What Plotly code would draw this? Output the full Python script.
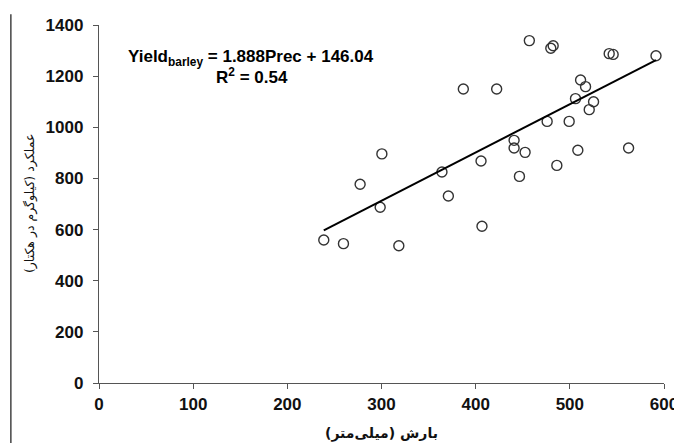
import plotly.graph_objects as go

# Data (precipitation mm, barley yield kg/ha)
prec = [457, 479.8, 482.3, 541.8, 546, 591.5, 386.9, 422.3, 511.4, 516.7,
        506, 525.2, 520.6, 475.9, 499.3, 440.8, 440.8, 452.5, 405.7, 508.5,
        562.4, 486.2, 446.5, 371, 406.7, 364.2, 300.4, 277.3, 298.6, 238.7,
        259.6, 318.4]
yield_ = [1339, 1309, 1319, 1288, 1285, 1280, 1150, 1150, 1185, 1159,
          1112, 1100, 1069, 1023, 1023, 949, 919, 902, 868, 910,
          919, 851, 808, 731, 613, 825, 896, 777, 687, 559,
          545, 537]
slope = 1.888
intercept = 146.04
trend_x = [min(prec), max(prec)]
trend_y = [slope * v + intercept for v in trend_x]

x_ticks = [0, 100, 200, 300, 400, 500, 600]
y_ticks = [0, 200, 400, 600, 800, 1000, 1200, 1400]

x_title = "بارش (میلی‌متر)\u200f"
y_title = "عملکرد (کیلوگرم در هکتار)\u200f"

font_main = "Liberation Sans, Arial, sans-serif"
font_fa = "DejaVu Sans, Noto Sans, sans-serif"

fig = go.Figure()
fig.add_trace(go.Scatter(
    x=prec, y=yield_, mode="markers",
    marker=dict(symbol="circle-open", size=10, color="#333333",
                line=dict(width=1.4, color="#333333")),
    showlegend=False, hoverinfo="skip"))
fig.add_trace(go.Scatter(
    x=trend_x, y=trend_y, mode="lines",
    line=dict(color="black", width=2), showlegend=False, hoverinfo="skip"))

fig.add_annotation(x=161, y=1271, xref="x", yref="y", showarrow=False,
                   text="<b>Yield<sub>barley</sub> = 1.888Prec + 146.04</b>",
                   font=dict(family=font_main, size=17, color="black"))
fig.add_annotation(x=163, y=1200, xref="x", yref="y", showarrow=False,
                   text="<b>R<sup>2</sup> = 0.54</b>",
                   font=dict(family=font_main, size=17, color="black"))

# axis titles
fig.add_annotation(x=0.5, y=-0.14, xref="paper", yref="paper", showarrow=False,
                   text="<b>" + x_title + "</b>", yanchor="middle",
                   font=dict(family=font_fa, size=14, color="#111111"))
fig.add_annotation(x=-0.122, y=0.5, xref="paper", yref="paper", showarrow=False,
                   text=y_title, textangle=-90, xanchor="center",
                   font=dict(family=font_fa, size=12.5, color="#111111"))

# decorative left border line
fig.add_shape(type="line", xref="paper", yref="paper",
              x0=-0.156, x1=-0.156, y0=1.03, y1=-0.17,
              line=dict(color="#444444", width=1.5))

axis_common = dict(showgrid=False, zeroline=False, showline=True, automargin=False,
                   linecolor="#555555", linewidth=1.3,
                   ticks="outside", ticklen=5, tickcolor="#555555", tickwidth=1.3,
                   tickfont=dict(family=font_main, size=17, color="#111111"))

fig.update_xaxes(range=[0, 600], tickvals=x_ticks,
                 ticktext=[f"<b>{v}</b>" for v in x_ticks],
                 **axis_common)
fig.update_yaxes(range=[0, 1400], tickvals=y_ticks, ticklabelstandoff=6,
                 ticktext=[f"<b>{v}</b>" for v in y_ticks],
                 **axis_common)

# page body has an 8px margin, so the figure margins compensate for it
fig.update_layout(width=682, height=443,
                  margin=dict(l=91, r=26, t=17, b=68),
                  plot_bgcolor="white", paper_bgcolor="white")

fig.write_html("out.html")
